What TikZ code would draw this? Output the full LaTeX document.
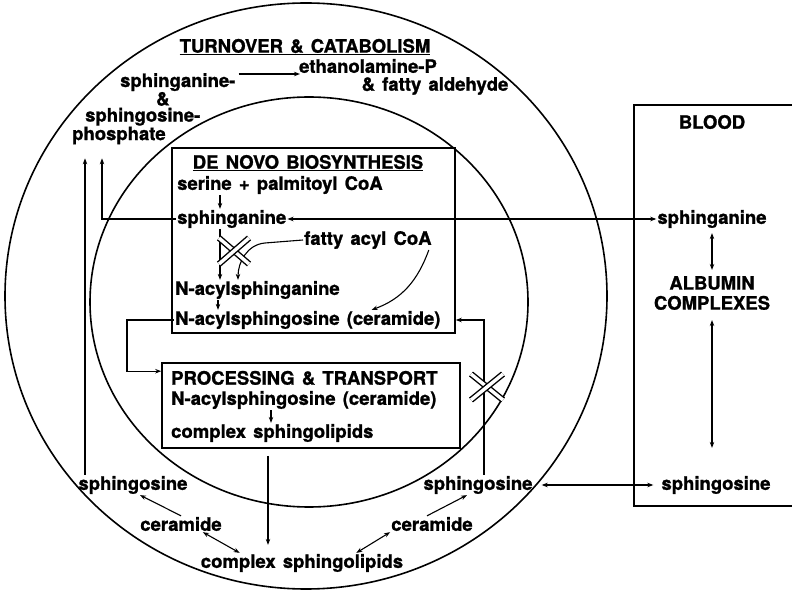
\documentclass[tikz,border=0pt]{standalone}
\usepackage{fontspec}
\setmainfont{TeX Gyre Heros}[WordSpace=1.4, BoldFeatures={FakeBold=1.2}]
\usetikzlibrary{arrows.meta}
\newcommand{\lipidfont}{\fontsize{18.5}{20}\selectfont\bfseries}

\begin{document}
\begin{tikzpicture}[x=1pt,y=-1pt,
	every node/.style={font=\lipidfont, inner sep=1pt},
	arr/.style={->,>={Stealth[length=6pt,width=4.5pt]},line width=1.1pt},
	darr/.style={<->,>={Stealth[length=6pt,width=4.5pt]},line width=1.1pt},
	box/.style={draw,line width=1.6pt,inner sep=0pt},
	blockbar/.style={double,line width=1.4pt,double distance=3.4pt}]
	\useasboundingbox (0,0) rectangle (792,593);
	%compartiments
	\draw[line width=1.6pt] (306,296) ellipse [x radius=301pt, y radius=293pt];
	\draw[line width=1.6pt] (309,302) ellipse [x radius=219pt, y radius=205pt];
	\draw[line width=1.6pt] (793,105) -- (634,105) -- (634,506) -- (793,506);
	\node[box, minimum width=283pt, minimum height=185pt] (denovo) at (313.5,240.5) {};
	\node[box, minimum width=298pt, minimum height=85pt] (proc) at (311,405.5) {};
	%fin
	%turnover
	\node (turn) at (305,47) {\underline{TURNOVER \& CATABOLISM}};
	\node[align=left, anchor=north west, font={\fontsize{18.5}{16.2}\selectfont\bfseries}] (sphp) at (71,72)
		{\hspace*{48pt}sphinganine-\\ \hspace*{84pt}\&\\ \hspace*{13pt}sphingosine-\\ phosphate};
	\node (eth1) at (368,66) {ethanolamine-P};
	\node (eth2) at (435,86) {\& fatty aldehyde};
	\draw[arr] ([xshift=2pt,yshift=-2pt]sphp.north east) -- ([xshift=2pt,yshift=-2pt]sphp.north east -| eth1.west);
	%de novo
	\node (dnt) at (308,163) {\underline{DE NOVO BIOSYNTHESIS}};
	\node[anchor=west] (ser) at (176,185) {serine + palmitoyl CoA};
	\node[anchor=west] (sga) at (176,219) {sphinganine};
	\node[anchor=west] (fac) at (303,240) {fatty acyl CoA};
	\node[anchor=west] (nsa) at (174,290) {N-acylsphinganine};
	\node[anchor=west] (nso) at (174,320) {N-acylsphingosine (ceramide)};
	%processing
	\node[anchor=west] (prt) at (170,378) {PROCESSING \& TRANSPORT};
	\node[anchor=west] (pce) at (170,400) {N-acylsphingosine (ceramide)};
	\node[anchor=west] (pcs) at (170,433) {complex sphingolipids};
	%anneau du bas
	\node (lso) at (133,485) {sphingosine};
	\node (rso) at (478,485) {sphingosine};
	\node (lcer) at (181,524) {ceramide};
	\node (rcer) at (432,524) {ceramide};
	\node (bcs) at (302,563) {complex sphingolipids};
	%sang
	\node (blood) at (712,122) {BLOOD};
	\node (bsa) at (712,219) {sphinganine};
	\node[align=center] (alb) at (712,293) {ALBUMIN\\COMPLEXES};
	\node (bso) at (716,485) {sphingosine};
	%fleches de novo
	\draw[arr] ([xshift=44pt]ser.south west) -- ([xshift=44pt]ser.south west |- sga.north);
	\draw[darr] (sga.east) -- (bsa.west);
	\draw[arr, shorten >=13pt] (sga.west) -| ([xshift=31pt]sphp.south west);
	\draw[arr] ([xshift=44pt]sga.south west) -- ([xshift=44pt]sga.south west |- nsa.north);
	\draw[arr] (fac.west) -- ++(-38,3) to[out=185,in=90] ([xshift=64pt]nsa.north west);
	\draw[arr] ([xshift=44pt]nsa.south west) -- ([xshift=44pt]nsa.south west |- nso.north);
	\draw[arr] ([xshift=-4pt]fac.south east) to[out=250,in=20] ([xshift=-70pt]nso.north east);
	\coordinate (xblk1) at (234,251);
	\draw[blockbar] ([shift={(-15,-13)}]xblk1) -- ([shift={(15,13)}]xblk1);
	\draw[blockbar] ([shift={(15,-13)}]xblk1) -- ([shift={(-15,13)}]xblk1);
	%fleches processing
	\draw[arr] (nso.west) -- ++(-47,0) |- ([yshift=-9pt]proc.north west);
	\draw[arr] ([xshift=101pt]pce.south west) -- ([xshift=101pt]pce.south west |- pcs.north);
	\draw[arr, shorten <=7pt, shorten >=8pt] ([xshift=-43pt]proc.south) -- ([xshift=-43pt]proc.south |- bcs.north);
	%fleches catabolisme
	\draw[arr] (lcer.north) -- ([xshift=7pt]lso.south);
	\draw[darr] ([xshift=-20pt]lcer.south east) -- ([xshift=40pt]bcs.north west);
	\draw[darr] ([xshift=-48pt]bcs.north east) -- (rcer.south west);
	\draw[arr] ([xshift=-5pt]rcer.north) -- ([xshift=-11pt]rso.south);
	\draw[arr, shorten >=13pt] ([xshift=-48pt]lso.north) -- ([xshift=-48pt]lso.north |- sphp.south);
	\draw[arr] ([xshift=6pt]rso.north) |- (nso.east -| denovo.east);
	\coordinate (xblk2) at (487,387);
	\draw[blockbar] ([shift={(-16,-13)}]xblk2) -- ([shift={(16,13)}]xblk2);
	\draw[blockbar] ([shift={(16,-13)}]xblk2) -- ([shift={(-16,13)}]xblk2);
	%fleches sang
	\draw[darr, shorten <=8pt, shorten >=7pt] (rso.east) -- (bso.west);
	\draw[darr, shorten <=4pt, shorten >=5pt] (bsa.south) -- (bsa.south |- alb.north);
	\draw[darr, shorten <=9pt, shorten >=27pt] (alb.south) -- (alb.south |- bso.north);
\end{tikzpicture}
\end{document}
